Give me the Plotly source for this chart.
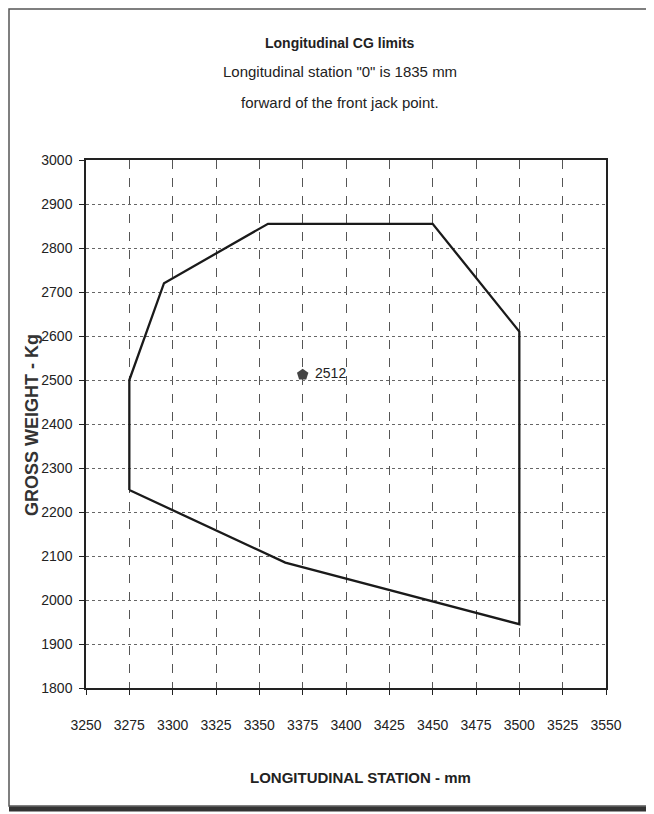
import plotly.graph_objects as go

# Envelope vertices (longitudinal station mm, gross weight kg)
station = [3275, 3275, 3295, 3355, 3450, 3500, 3500, 3365, 3275]
weight = [2250, 2500, 2720, 2855, 2855, 2610, 1945, 2085, 2250]

# Current CG point
cg_station = [3375]
cg_weight = [2512]
cg_label = ["2512"]

x_ticks = [3250, 3275, 3300, 3325, 3350, 3375, 3400, 3425, 3450, 3475, 3500, 3525, 3550]
y_ticks = [1800, 1900, 2000, 2100, 2200, 2300, 2400, 2500, 2600, 2700, 2800, 2900, 3000]

title_lines = ["Longitudinal CG limits",
               "Longitudinal station \"0\" is 1835 mm",
               "forward of the front jack point."]

FONT = "Liberation Sans, Arial, sans-serif"

fig = go.Figure()
fig.add_trace(go.Scatter(x=station, y=weight, mode="lines",
                         line=dict(color="#1a1a1a", width=2.3),
                         showlegend=False, hoverinfo="skip"))
fig.add_trace(go.Scatter(x=cg_station, y=cg_weight, mode="markers+text",
                         marker=dict(symbol="pentagon", size=12, color="#444"),
                         text=[" " + t for t in cg_label], textposition="middle right",
                         textfont=dict(family=FONT, size=14, color="#222"),
                         showlegend=False))

OFF = 8  # default body margin of the page
W, H = 654 - OFF, 814 - OFF
L, R, T, B = 86 - OFF, 48, 160 - OFF, 126
pw, ph = W - L - R, H - T - B

def px2paper_x(px):
    return (px - OFF - L) / pw

def px2paper_y(py):
    return (H - B - (py - OFF)) / ph

annotations = []
for i, (line, py) in enumerate(zip(title_lines, [43, 72, 102])):
    annotations.append(dict(text=("<b>%s</b>" % line) if i == 0 else line,
                            xref="paper", yref="paper",
                            x=px2paper_x(340), y=px2paper_y(py),
                            xanchor="center", yanchor="middle", showarrow=False,
                            font=dict(family=FONT, size=14 if i == 0 else 15, color="#222")))
annotations.append(dict(text="<b>LONGITUDINAL STATION - mm</b>", xref="paper", yref="paper",
                        x=px2paper_x(360), y=px2paper_y(777), xanchor="center", yanchor="middle",
                        showarrow=False, font=dict(family=FONT, size=15, color="#222")))
annotations.append(dict(text="<b>GROSS WEIGHT - Kg</b>", xref="paper", yref="paper",
                        x=px2paper_x(32), y=px2paper_y(425), xanchor="center", yanchor="middle",
                        textangle=-90, showarrow=False,
                        font=dict(family=FONT, size=18, color="#333")))

shapes = [dict(type="rect", xref="paper", yref="paper",
               x0=px2paper_x(9), x1=px2paper_x(648), y0=px2paper_y(806), y1=px2paper_y(9),
               line=dict(color="#555", width=1.5)),
          dict(type="line", xref="paper", yref="paper",
               x0=px2paper_x(9), x1=px2paper_x(654), y0=px2paper_y(809), y1=px2paper_y(809),
               line=dict(color="#333", width=5))]

fig.update_layout(
    width=W, height=H,
    margin=dict(l=L, r=R, t=T, b=B),
    paper_bgcolor="white", plot_bgcolor="white",
    annotations=annotations, shapes=shapes,
    xaxis=dict(range=[3250, 3550], tickvals=x_ticks, ticktext=[str(v) for v in x_ticks],
               showline=True, linecolor="#222", linewidth=1.5, mirror=True,
               ticks="outside", ticklen=5, tickcolor="#222",
               showgrid=True, gridcolor="#555", gridwidth=1, griddash="dash",
               zeroline=False, ticklabelstandoff=18,
               tickfont=dict(family=FONT, size=14, color="#222")),
    yaxis=dict(range=[1800, 3000], tickvals=y_ticks, ticktext=[str(v) for v in y_ticks],
               showline=True, linecolor="#222", linewidth=1.5, mirror=True,
               ticks="outside", ticklen=5, tickcolor="#222",
               showgrid=True, gridcolor="#666", gridwidth=1, griddash="dot",
               zeroline=False, ticklabelstandoff=4,
               tickfont=dict(family=FONT, size=14, color="#222")),
)

fig.write_html("out.html")
